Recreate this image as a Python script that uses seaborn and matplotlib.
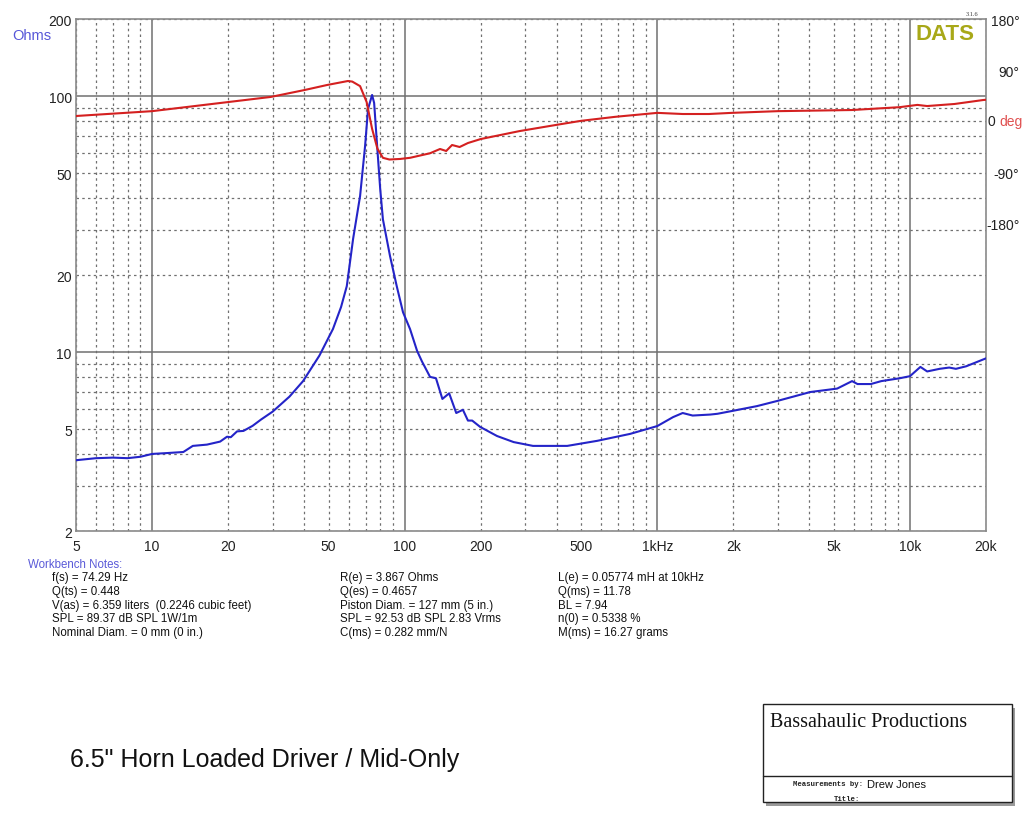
import numpy as np
import pandas as pd
import seaborn as sns
import matplotlib.pyplot as plt
from matplotlib.ticker import FixedLocator, FixedFormatter
from matplotlib.patches import Rectangle
from matplotlib.lines import Line2D

# impedance curve (Hz, ohms)
imp_freq = [5, 6, 7, 8, 9, 10, 11.4, 13.3, 14.5, 16.5, 18.6, 19.8, 20.5, 21.7, 23, 25, 27,
            30, 35, 39.6, 46, 52, 56, 59, 62.5, 66.6, 69.7, 71.6, 74.3, 75.7, 77.8, 80, 82,
            87.5, 93, 98.5, 105, 112, 117, 126, 133, 141, 150, 160, 170, 178, 185, 199, 232,
            270, 322, 440, 578, 780, 1000, 1154, 1260, 1380, 1620, 1730, 2000, 2480, 2980,
            4030, 5150, 5900, 6200, 7000, 7700, 9100, 10000, 11000, 11700, 13100, 14300,
            15200, 16700, 19200, 20000]
imp_ohms = [3.78, 3.85, 3.87, 3.85, 3.9, 4.0, 4.03, 4.07, 4.3, 4.35, 4.47, 4.67, 4.65, 4.9,
            4.92, 5.15, 5.45, 5.85, 6.7, 7.7, 9.7, 12.3, 15.0, 18.1, 27.7, 40.7, 63.8, 89,
            101, 94, 63.8, 43.4, 33, 23.7, 18.1, 14.3, 12.3, 10.1, 9.2, 8.0, 7.9, 6.56, 6.9,
            5.78, 5.95, 5.4, 5.4, 5.1, 4.7, 4.45, 4.3, 4.3, 4.5, 4.79, 5.14, 5.57, 5.78,
            5.65, 5.7, 5.74, 5.9, 6.15, 6.44, 6.98, 7.2, 7.7, 7.5, 7.5, 7.7, 7.9, 8.05,
            8.75, 8.4, 8.6, 8.7, 8.6, 8.8, 9.3, 9.45]

# phase curve (Hz, degrees)
ph_freq = [5, 10, 20, 29.5, 40, 49.3, 59.6, 62, 66.6, 70.7, 74.3, 78, 82, 87, 96, 105, 126,
           138, 146, 154, 165, 178, 200, 285, 400, 499, 680, 1000, 1260, 1600, 1970, 3000,
           5900, 9100, 10700, 11700, 15000, 19500, 20000]
ph_deg = [9.5, 18, 34, 43, 55, 64, 71, 70, 62, 34, -13, -48, -64, -67, -66, -64, -56,
          -48.5, -52, -41.5, -45, -38, -31, -17, -6, 1, 8, 15, 13, 13, 15, 18,
          20, 25, 29, 27, 30.6, 37.6, 38]

x_major = [10, 100, 1000, 10000]
x_major_lbl = ['10', '100', '1kHz', '10k']
x_minor = [m * d for d in [1, 10, 100, 1000] for m in range(2, 10)
           if 5 <= m * d <= 20000] + [20000]
x_minor_lbl = {5: '5', 20: '20', 50: '50', 200: '200', 500: '500',
               2000: '2k', 5000: '5k', 20000: '20k'}
y_major = [10, 100]
y_minor = [2, 3, 4, 5, 6, 7, 8, 9, 20, 30, 40, 50, 60, 70, 80, 90, 200]
y_minor_lbl = {2: '2', 5: '5', 20: '20', 50: '50', 200: '200'}
ph_ticks = [180, 90, 0, -90, -180]
ph_lbls = ['180°', '90°', '', '-90°', '-180°']

notes = [
    ['f(s) = 74.29 Hz', 'Q(ts) = 0.448', 'V(as) = 6.359 liters  (0.2246 cubic feet)',
     'SPL = 89.37 dB SPL 1W/1m', 'Nominal Diam. = 0 mm (0 in.)'],
    ['R(e) = 3.867 Ohms', 'Q(es) = 0.4657', 'Piston Diam. = 127 mm (5 in.)',
     'SPL = 92.53 dB SPL 2.83 Vrms', 'C(ms) = 0.282 mm/N'],
    ['L(e) = 0.05774 mH at 10kHz', 'Q(ms) = 11.78', 'BL = 7.94',
     'n(0) = 0.5338 %', 'M(ms) = 16.27 grams'],
]

sns.set_style('white')
plt.rcParams['font.family'] = ['Liberation Sans', 'DejaVu Sans']

W, H = 1024, 820
fig = plt.figure(figsize=(W / 100, H / 100), dpi=100)


def fx(px):
    return px / W


def fy(py):
    return 1 - py / H


ax = fig.add_axes([fx(76), fy(532), (986 - 76) / W, (532 - 20) / H])
ax.set_xscale('log')
ax.set_yscale('log')

df_imp = pd.DataFrame({'freq': imp_freq, 'ohms': imp_ohms})
sns.lineplot(data=df_imp, x='freq', y='ohms', ax=ax, color='#2424c8', lw=1.5, zorder=5)
ax.set_xlim(5, 20000)
ax.set_ylim(2, 200)

ax.xaxis.set_major_locator(FixedLocator(x_major))
ax.xaxis.set_major_formatter(FixedFormatter(x_major_lbl))
ax.xaxis.set_minor_locator(FixedLocator(x_minor))
ax.xaxis.set_minor_formatter(FixedFormatter([x_minor_lbl.get(v, '') for v in x_minor]))
ax.yaxis.set_major_locator(FixedLocator(y_major))
ax.yaxis.set_major_formatter(FixedFormatter(['10', '100']))
ax.yaxis.set_minor_locator(FixedLocator(y_minor))
ax.yaxis.set_minor_formatter(FixedFormatter([y_minor_lbl.get(v, '') for v in y_minor]))
ax.tick_params(which='both', length=0, labelsize=10, colors='#222222')
ax.tick_params(axis='x', which='both', pad=6)
ax.tick_params(axis='y', which='both', pad=3)
ax.grid(which='major', color='#707070', lw=1.1, ls='-')
ax.grid(which='minor', color='#707070', lw=0.9, ls=(0, (2, 2.6)))
ax.set_xlabel('')
ax.set_ylabel('')
for s in ax.spines.values():
    s.set_color('#8a8a8a')
    s.set_linewidth(1.2)

ax2 = ax.twinx()
df_ph = pd.DataFrame({'freq': ph_freq, 'deg': ph_deg})
sns.lineplot(data=df_ph, x='freq', y='deg', ax=ax2, color='#d42020', lw=1.5)
ax2.set_ylim(-720, 180)
ax2.set_xlim(5, 20000)
ax2.set_yticks(ph_ticks)
ax2.set_yticklabels(ph_lbls)
ax2.tick_params(length=0, labelsize=10, colors='#222222', pad=24)
for t in ax2.get_yticklabels():
    t.set_ha('right')
ax2.set_ylabel('')
ax2.grid(False)
for s in ax2.spines.values():
    s.set_visible(False)
ytr = ax2.get_yaxis_transform()
ax2.text((988 - 76) / 910, 0, '0', transform=ytr, color='#222222',
         fontsize=10, ha='left', va='center')
ax2.text((999 - 76) / 910, 0, 'deg', transform=ytr, color='#e05050',
         fontsize=10, ha='left', va='center')

# labels on the chart
fig.text(fx(12), fy(36), 'Ohms', color='#5656d8', fontsize=10.5, va='center')
fig.text(fx(945), fy(34), 'DATS', color='#a8a818', fontsize=16, fontweight='bold',
         ha='center', va='center')
fig.text(fx(972), fy(14), '3.1.6', fontsize=4.5, family='Liberation Serif',
         ha='center', va='center', color='#333333')

# workbench notes
fig.text(fx(28), fy(565), 'Workbench Notes:', color='#5a5ad8', fontsize=8.3,
         va='center')
for xpos, col in zip([52, 340, 558], notes):
    for i, line in enumerate(col):
        fig.text(fx(xpos), fy(578 + i * 13.8), line, fontsize=8.3,
                 va='center', color='#111111')

fig.text(fx(70), fy(760), '6.5" Horn Loaded Driver / Mid-Only', fontsize=18,
         va='center', color='#111111')

# title block
fig.add_artist(Rectangle((fx(766), fy(807)), (1012 - 763) / W, (803 - 705) / H,
                         transform=fig.transFigure, facecolor='#9a9a9a', edgecolor='none'))
fig.add_artist(Rectangle((fx(763), fy(803)), (1012 - 763) / W, (803 - 705) / H,
                         transform=fig.transFigure, facecolor='white', edgecolor='#222222',
                         lw=1.0))
fig.add_artist(Line2D([fx(763), fx(1012)], [fy(777), fy(777)], transform=fig.transFigure,
                      color='#222222', lw=1.0))
fig.text(fx(770), fy(723), 'Bassahaulic Productions', family='Liberation Serif',
         fontsize=14.5, va='center', color='#111111')
fig.text(fx(863), fy(785), 'Measurements by:', family='Liberation Mono', fontsize=5.3,
         fontweight='bold', ha='right', va='center', color='#222222')
fig.text(fx(867), fy(785), 'Drew Jones', fontsize=8, va='center', color='#111111')
fig.text(fx(860), fy(800), 'Title:', family='Liberation Mono', fontsize=5.3,
         fontweight='bold', ha='right', va='center', color='#222222')

fig.savefig('out.png', dpi=100)
